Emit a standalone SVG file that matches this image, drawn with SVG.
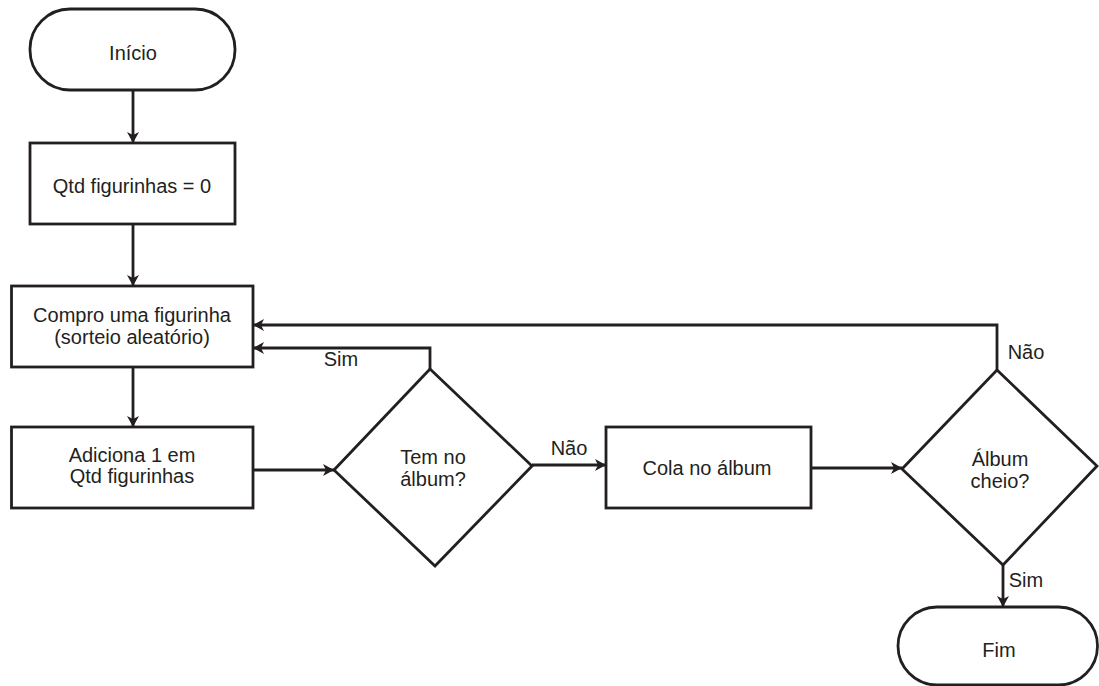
<svg xmlns="http://www.w3.org/2000/svg" width="1099" height="686" viewBox="0 0 1099 686">
<style>
.shape{fill:#ffffff;stroke:#231f20;stroke-width:2.8}
.conn{fill:none;stroke:#231f20;stroke-width:2.8}
text{font-family:"Liberation Sans",Arial,sans-serif;font-size:20px;fill:#231f20;text-anchor:middle}
</style>
<defs>
<marker id="arrow" viewBox="0 0 11 12" markerWidth="11" markerHeight="12" markerUnits="userSpaceOnUse" refX="11" refY="6" orient="auto">
<path d="M0,0 L11,6 L0,12 L3,6 z" fill="#231f20"/>
</marker>
</defs>
<rect width="1099" height="686" fill="#ffffff"/>
<g id="connectors">
<path class="conn" d="M133,90 V143" marker-end="url(#arrow)"/>
<path class="conn" d="M133,224 V286" marker-end="url(#arrow)"/>
<path class="conn" d="M133,367 V427" marker-end="url(#arrow)"/>
<path class="conn" d="M253,470 H334" marker-end="url(#arrow)"/>
<path class="conn" d="M532,465 H606" marker-end="url(#arrow)"/>
<path class="conn" d="M811,468 H902" marker-end="url(#arrow)"/>
<path class="conn" d="M430,369 V348 H253" marker-end="url(#arrow)"/>
<path class="conn" d="M997,370 V325 H253" marker-end="url(#arrow)"/>
<path class="conn" d="M1003,565 V607" marker-end="url(#arrow)"/>
<text x="341" y="366">Sim</text>
<text x="569" y="455">Não</text>
<text x="1026" y="359">Não</text>
<text x="1026" y="587">Sim</text>
</g>
<g id="inicio">
<rect class="shape" x="30" y="9" width="205" height="81" rx="40" ry="40"/>
<text x="133" y="60">Início</text>
</g>
<g id="qtd-zero">
<rect class="shape" x="30" y="143" width="205" height="81"/>
<text x="132" y="193">Qtd figurinhas = 0</text>
</g>
<g id="compro">
<rect class="shape" x="11.5" y="286" width="241.5" height="81"/>
<text x="132" y="322">Compro uma figurinha</text>
<text x="132" y="344">(sorteio aleatório)</text>
</g>
<g id="adiciona">
<rect class="shape" x="11.5" y="427" width="241.5" height="81"/>
<text x="132" y="462">Adiciona 1 em</text>
<text x="132" y="483">Qtd figurinhas</text>
</g>
<g id="tem-no-album">
<polygon class="shape" points="430,369 532,466 435,566 334,470"/>
<text x="433" y="464">Tem no</text>
<text x="433" y="486">álbum?</text>
</g>
<g id="cola">
<rect class="shape" x="606" y="427" width="205" height="81"/>
<text x="707" y="475">Cola no álbum</text>
</g>
<g id="album-cheio">
<polygon class="shape" points="997,370 1097,466 1003,565 902,469"/>
<text x="1000" y="466">Álbum</text>
<text x="1000" y="488">cheio?</text>
</g>
<g id="fim">
<rect class="shape" x="898" y="607" width="199.5" height="78" rx="39" ry="39"/>
<text x="999" y="657">Fim</text>
</g>
</svg>
